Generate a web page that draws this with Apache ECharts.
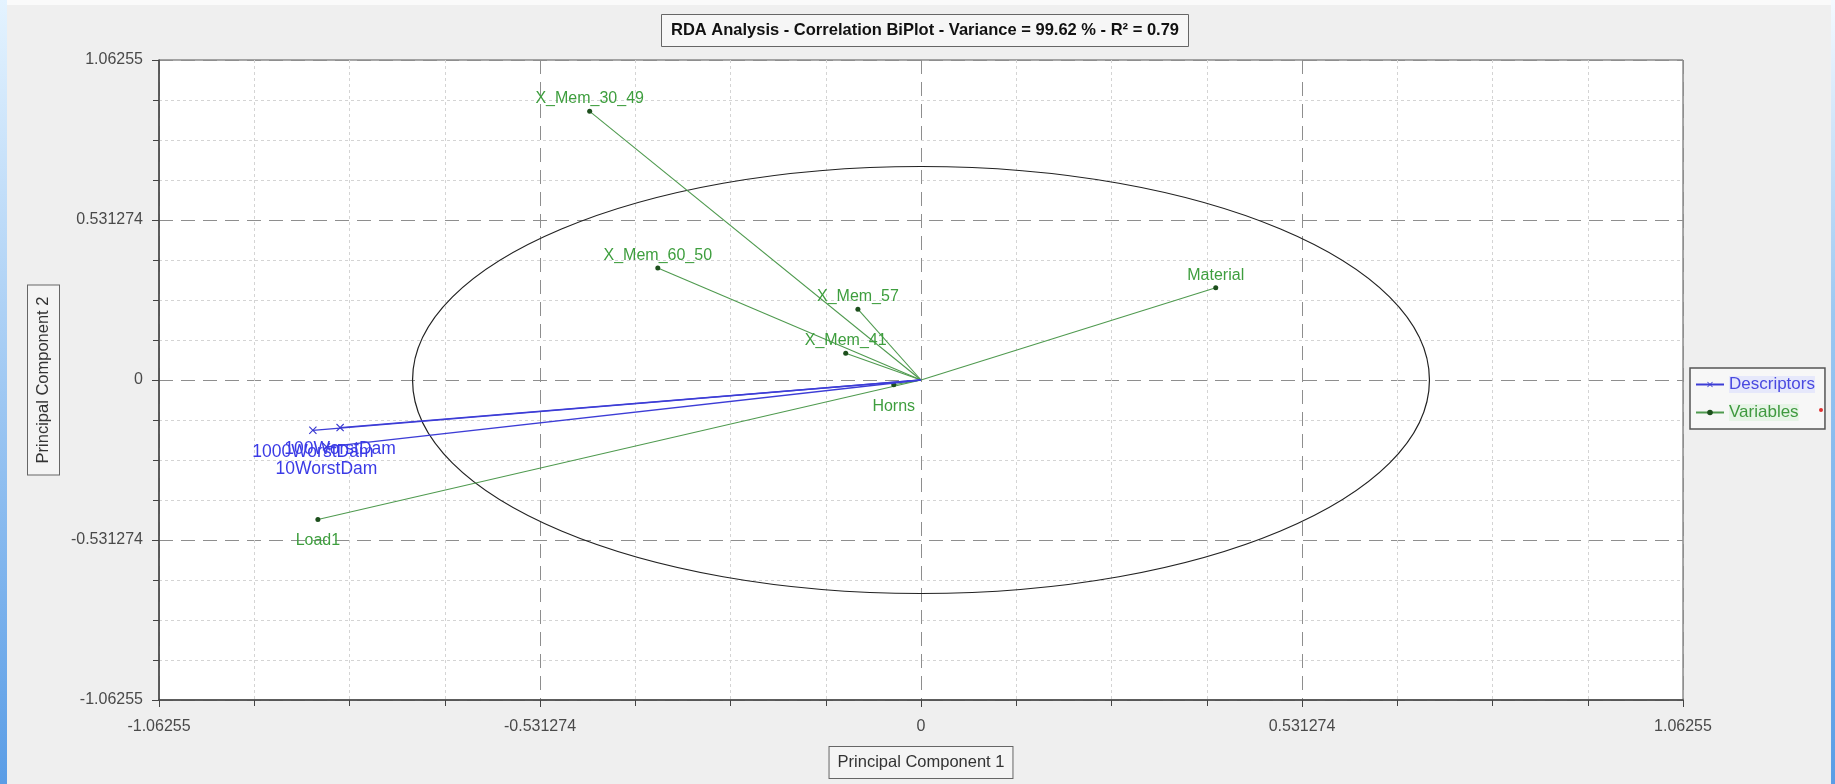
<!DOCTYPE html>
<html>
<head>
<meta charset="utf-8">
<title>RDA Analysis - Correlation BiPlot</title>
<script src="https://cdn.jsdelivr.net/npm/echarts@6/dist/echarts.min.js"></script>
<style>
  html, body { margin: 0; padding: 0; background: #efefef; }
  #chart { width: 1835px; height: 784px; }
</style>
</head>
<body>
<div id="chart"></div>
<script>
// Axis scale: major step and the labels printed at each major tick
const AXIS_STEP = 0.531274;
const tickLabels = ['-1.06255', '-0.531274', '0', '0.531274', '1.06255'];

// Descriptor vectors (blue, cross markers)
const descNames = ['1000WorstDam', '100WorstDam', '10WorstDam'];
const descX = [-0.848, -0.810, -0.829];
const descY = [-0.167, -0.158, -0.222];

// Variable vectors (green, dot markers)
const varNames = ['X_Mem_30_49', 'X_Mem_60_50', 'X_Mem_57', 'X_Mem_41', 'Horns', 'Material', 'Load1'];
const varX = [-0.462, -0.367, -0.088, -0.105, -0.038, 0.411, -0.841];
const varY = [0.892, 0.372, 0.235, 0.089, -0.016, 0.306, -0.463];

// Radius of the correlation circle
const circleRadius = 0.709;

const FONT = "'Liberation Sans', Arial, sans-serif";
const CROSS = 'path://M0,1L1,0L5,4L9,0L10,1L6,5L10,9L9,10L5,6L1,10L0,9L4,5Z';

// One line series per vector (origin -> endpoint); series sharing a name share a legend entry
function vectorSeries(name, names, xs, ys, opts) {
  return names.map((n, i) => ({
    name: name,
    type: 'line',
    symbol: opts.symbol,
    symbolSize: opts.symbolSize,
    showSymbol: true,
    z: opts.z,
    lineStyle: { color: opts.lineColor, width: opts.lineWidth },
    itemStyle: { color: opts.markColor },
    emphasis: { disabled: true },
    animation: false,
    data: [
      { value: [0, 0], symbol: 'none', label: { show: false } },
      {
        value: [xs[i], ys[i]],
        name: n,
        label: {
          show: true,
          formatter: n,
          position: ys[i] >= 0 ? 'top' : 'bottom',
          distance: ys[i] >= 0 ? 2 : opts.below,
          color: opts.labelColor,
          fontSize: opts.labelSize,
          fontFamily: FONT
        }
      }
    ]
  }));
}

const descSeries = vectorSeries('Descriptors', descNames, descX, descY, {
  symbol: CROSS, symbolSize: 8, z: 4,
  lineColor: '#3d3dd6', lineWidth: 1.3, markColor: '#3a3ad0',
  labelColor: '#3b3be6', labelSize: 17.5, below: 9
});

const varSeries = vectorSeries('Variables', varNames, varX, varY, {
  symbol: 'circle', symbolSize: 5, z: 3,
  lineColor: '#4f9a4f', lineWidth: 1.1, markColor: '#1d4f1d',
  labelColor: '#3e9e3e', labelSize: 16, below: 11
});

// Correlation circle drawn through the axis scales
const circleSeries = {
  name: 'circle',
  type: 'custom',
  z: 2,
  silent: true,
  animation: false,
  data: [[0, 0, circleRadius]],
  renderItem: function (params, api) {
    const c = api.coord([api.value(0), api.value(1)]);
    const s = api.size([api.value(2), api.value(2)]);
    return {
      type: 'ellipse',
      shape: { cx: c[0], cy: c[1], rx: s[0], ry: s[1] },
      style: { fill: 'none', stroke: '#222', lineWidth: 1.2 }
    };
  }
};

function axisCommon() {
  return {
    type: 'value',
    min: -2 * AXIS_STEP,
    max: 2 * AXIS_STEP,
    interval: AXIS_STEP,
    minorTick: { show: true, splitNumber: 4, length: 6, lineStyle: { color: '#444' } },
    axisTick: { show: true, length: 7, lineStyle: { color: '#444' } },
    axisLine: { show: true, onZero: false, lineStyle: { color: '#444', width: 1.5 } },
    splitLine: { show: true, lineStyle: { color: '#8e8e8e', type: [14, 8], width: 1 } },
    minorSplitLine: { show: true, lineStyle: { color: '#d4d4d4', type: [3, 3], width: 1 } },
    axisLabel: {
      color: '#4a4a4a',
      fontSize: 16,
      fontFamily: FONT,
      formatter: function (v) {
        const idx = Math.round(v / AXIS_STEP) + 2;
        return tickLabels[idx] !== undefined ? tickLabels[idx] : '';
      }
    },
    nameLocation: 'middle',
    nameTextStyle: {
      color: '#333',
      fontSize: 16.5,
      fontFamily: FONT,
      borderColor: '#666',
      borderWidth: 1,
      backgroundColor: '#f4f4f4'
    }
  };
}

const xAxis = Object.assign(axisCommon(), {
  name: 'Principal Component 1',
  nameGap: 47
});
xAxis.axisLabel.margin = 19;
xAxis.nameTextStyle.padding = [7, 8, 7, 8];

const yAxis = Object.assign(axisCommon(), {
  name: 'Principal Component 2',
  nameGap: 100,
  nameRotate: 90
});
yAxis.axisLabel.margin = 16;
yAxis.nameTextStyle.padding = [7, 11, 7, 11];

const chart = echarts.init(document.getElementById('chart'), null, { renderer: 'canvas' });

chart.setOption({
  backgroundColor: '#efefef',
  animation: false,
  title: {
    text: 'RDA Analysis - Correlation BiPlot - Variance = 99.62 % - R² = 0.79',
    left: 661,
    top: 14,
    padding: [8, 10],
    borderColor: '#666',
    borderWidth: 1,
    backgroundColor: '#f6f6f6',
    textStyle: { fontSize: 16.5, fontWeight: 'bold', color: '#111', fontFamily: FONT }
  },
  legend: {
    orient: 'vertical',
    left: 1690,
    top: 368,
    padding: [8, 10, 8, 5],
    itemGap: 11,
    itemWidth: 28,
    itemHeight: 7,
    borderColor: '#555',
    borderWidth: 1.5,
    backgroundColor: '#f7f7f7',
    selectedMode: false,
    data: [
      { name: 'Descriptors', textStyle: { color: '#4a4ae0', backgroundColor: '#e6e8fb', fontSize: 17, fontFamily: FONT } },
      { name: 'Variables', textStyle: { color: '#3f993f', backgroundColor: '#e6f4e6', fontSize: 17, fontFamily: FONT } }
    ]
  },
  grid: {
    left: 159,
    right: 152,
    top: 60,
    bottom: 84,
    show: true,
    backgroundColor: '#ffffff',
    borderColor: '#555',
    borderWidth: 1
  },
  xAxis: xAxis,
  yAxis: yAxis,
  graphic: [
    {
      type: 'rect', left: 0, top: 0, z: -1, silent: true,
      shape: { width: 1835, height: 5 },
      style: { fill: '#fafafa' }
    },
    {
      type: 'rect', left: 0, top: 0, z: -1, silent: true,
      shape: { width: 7, height: 784 },
      style: { fill: new echarts.graphic.LinearGradient(0, 0, 0, 1, [
        { offset: 0, color: '#e4f3ff' }, { offset: 1, color: '#5a9de6' }
      ]) }
    },
    {
      type: 'rect', right: 0, top: 0, z: -1, silent: true,
      shape: { width: 4, height: 784 },
      style: { fill: new echarts.graphic.LinearGradient(0, 0, 0, 1, [
        { offset: 0, color: '#f4f9ff' }, { offset: 0.4, color: '#9cc8f2' }, { offset: 1, color: '#5a9de6' }
      ]) }
    },
    {
      type: 'circle', left: 1819, top: 408, z: 100, silent: true,
      shape: { r: 2 },
      style: { fill: '#e03030' }
    }
  ],
  series: [circleSeries].concat(descSeries, varSeries)
});
</script>
</body>
</html>
